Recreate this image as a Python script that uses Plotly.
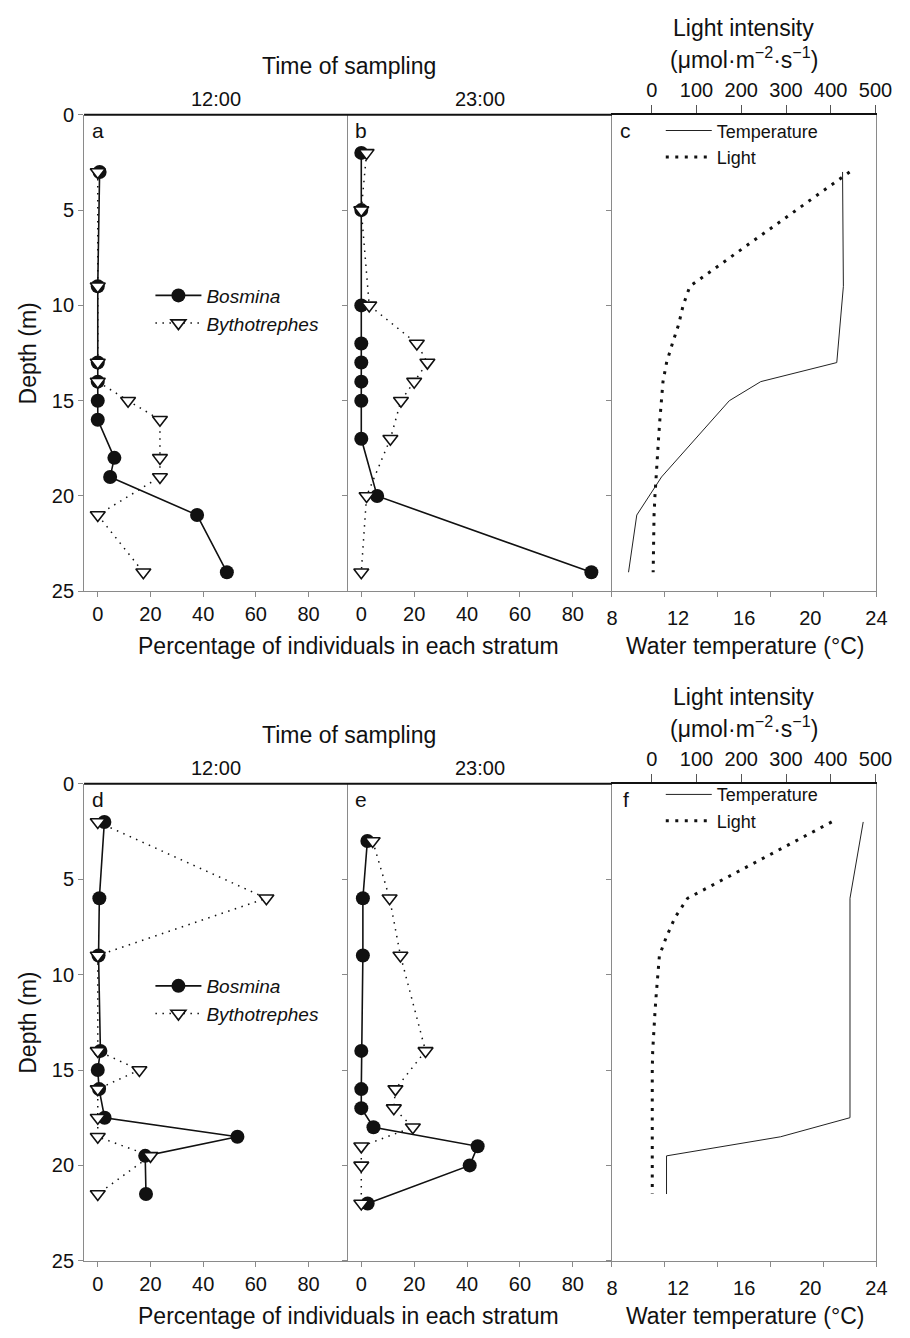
import plotly.graph_objects as go

W, H = 910, 1338
FONT = "Liberation Sans, Arial, Helvetica, sans-serif"

# ---------------- data ----------------
# Panel a (12:00, upper)
depth_a = [3, 9, 13, 14, 15, 16, 18, 19, 21, 24]
bosmina_a = [0.7, 0, 0, 0, 0, 0, 6.3, 4.7, 37.7, 49]
bytho_a = [0, 0, 0, 0, 11.5, 23.6, 23.6, 23.6, 0, 17.3]

# Panel b (23:00, upper)
depth_b = [2, 5, 10, 12, 13, 14, 15, 17, 20, 24]
bosmina_b = [0, 0, 0, 0, 0, 0, 0, 0, 6, 87]
bytho_b = [2, 0, 3, 21, 25, 20, 15, 11, 2, 0]

# Panel c (upper profiles)
temp_depth_c = [3, 9, 13, 14, 15, 19, 21, 24]
temp_c = [21.95, 22.0, 21.6, 17.0, 15.1, 11.0, 9.5, 9.0]
light_depth_c = [3, 9, 10, 11, 12, 13, 14, 15, 16, 17, 18, 19, 20, 21, 22, 24]
light_c = [442, 85, 70, 60, 46, 33, 25, 21, 18, 15, 12, 9, 7, 5, 4, 3]

# Panel d (12:00, lower)
depth_d = [2, 6, 9, 14, 15, 16, 17.5, 18.5, 19.5, 21.5]
bosmina_d = [2.5, 0.6, 0.3, 1, 0, 0.5, 2.6, 53, 18, 18.3]
bytho_d = [0, 64, 0, 0, 15.8, 0, 0, 0, 20, 0]

# Panel e (23:00, lower)
depth_e = [3, 6, 9, 14, 16, 17, 18, 19, 20, 22]
bosmina_e = [2.3, 0.6, 0.6, 0, 0, 0, 4.6, 44, 41, 2.4]
bytho_e = [4.3, 10.7, 14.8, 24.3, 12.9, 12.3, 19.5, 0, 0, 0]

# Panel f (lower profiles)
temp_depth_f = [2, 6, 17.5, 18.5, 19.5, 21.5]
temp_f = [23.2, 22.4, 22.4, 18.2, 11.3, 11.3]
light_depth_f = [2, 6, 7, 8, 9, 10, 11, 12, 13, 14, 15, 18, 21.5]
light_f = [402, 80, 52, 33, 17, 13, 10, 7, 4, 2, 1, 1, 1]

pct_ticks = [0, 20, 40, 60, 80]
depth_ticks = [0, 5, 10, 15, 20, 25]
temp_ticks = [8, 12, 16, 20, 24]
temp_marks = [8, 11.2, 14.4, 17.6, 20.8, 24]
light_ticks = [0, 100, 200, 300, 400, 500]

# ---------------- layout geometry (pixels) ----------------
cols = [(80, 350), (350, 621), (621, 892)]
rows = [(105.5, 590), (785.7, 1270.7)]


def xd(c):
    return [c[0] / W, c[1] / W]


def yd(r):
    return [1 - r[1] / H, 1 - r[0] / H]


def py(p):
    return 1 - p / H


def px(p):
    return p / W


AX_GRAY = "#8a8a8a"
tickfont = dict(family=FONT, size=20, color="#111")

fig = go.Figure()

bos_style = dict(mode="lines+markers", line=dict(color="#111", width=1.6),
                 marker=dict(symbol="circle", size=14, color="#111"))
byt_style = dict(mode="lines+markers", line=dict(color="#111", width=1.5, dash="1.5px,5.5px"),
                 marker=dict(symbol="triangle-down", size=13, color="white",
                             line=dict(color="#111", width=1.6)))
temp_style = dict(mode="lines", line=dict(color="#222", width=1))
light_style = dict(mode="lines", line=dict(color="#111", width=3, dash="3px,6.5px"))

# panel a
fig.add_trace(go.Scatter(x=bosmina_a, y=depth_a, name="<i>Bosmina</i>", xaxis="x", yaxis="y",
                         legend="legend", **bos_style))
fig.add_trace(go.Scatter(x=bytho_a, y=depth_a, name="<i>Bythotrephes</i>", xaxis="x", yaxis="y",
                         legend="legend", **byt_style))
# panel b
fig.add_trace(go.Scatter(x=bosmina_b, y=depth_b, xaxis="x2", yaxis="y2", showlegend=False, **bos_style))
fig.add_trace(go.Scatter(x=bytho_b, y=depth_b, xaxis="x2", yaxis="y2", showlegend=False, **byt_style))
# panel c
fig.add_trace(go.Scatter(x=temp_c, y=temp_depth_c, name="Temperature", xaxis="x3", yaxis="y3",
                         legend="legend2", **temp_style))
fig.add_trace(go.Scatter(x=light_c, y=light_depth_c, name="Light", xaxis="x7", yaxis="y3",
                         legend="legend2", **light_style))
fig.add_trace(go.Scatter(x=[], y=[], xaxis="x8", yaxis="y3", showlegend=False, hoverinfo="skip"))
# panel d
fig.add_trace(go.Scatter(x=bosmina_d, y=depth_d, name="<i>Bosmina</i>", xaxis="x4", yaxis="y4",
                         legend="legend3", **bos_style))
fig.add_trace(go.Scatter(x=bytho_d, y=depth_d, name="<i>Bythotrephes</i>", xaxis="x4", yaxis="y4",
                         legend="legend3", **byt_style))
# panel e
fig.add_trace(go.Scatter(x=bosmina_e, y=depth_e, xaxis="x5", yaxis="y5", showlegend=False, **bos_style))
fig.add_trace(go.Scatter(x=bytho_e, y=depth_e, xaxis="x5", yaxis="y5", showlegend=False, **byt_style))
# panel f
fig.add_trace(go.Scatter(x=temp_f, y=temp_depth_f, name="Temperature", xaxis="x6", yaxis="y6",
                         legend="legend4", **temp_style))
fig.add_trace(go.Scatter(x=light_f, y=light_depth_f, name="Light", xaxis="x9", yaxis="y6",
                         legend="legend4", **light_style))
fig.add_trace(go.Scatter(x=[], y=[], xaxis="x10", yaxis="y6", showlegend=False, hoverinfo="skip"))

layout = dict(width=W, height=H, margin=dict(l=0, r=0, t=0, b=0),
              paper_bgcolor="white", plot_bgcolor="white",
              font=dict(family=FONT, color="#111"), hovermode=False)

pct_axis = dict(range=[-5.2, 94.8], tickvals=pct_ticks, ticks="outside", ticklen=5,
                tickcolor=AX_GRAY, showline=True, linecolor=AX_GRAY, linewidth=1,
                showgrid=False, zeroline=False, tickfont=tickfont, fixedrange=True)
temp_axis = dict(range=[8, 24], tickvals=temp_ticks, ticks="", showline=True, linecolor=AX_GRAY,
                 linewidth=1, showgrid=False, zeroline=False, tickfont=tickfont, ticklabelstandoff=9)
temp_mark_axis = dict(range=[8, 24], tickvals=temp_marks, ticks="outside", ticklen=5,
                      tickcolor=AX_GRAY, showticklabels=False, showline=False,
                      showgrid=False, zeroline=False)
light_axis = dict(range=[-89, 502], tickvals=light_ticks, ticks="outside", ticklen=8,
                  tickcolor="#555", side="top", showline=True, linecolor="#111", linewidth=2,
                  showgrid=False, zeroline=False, tickfont=tickfont)


def yaxis(col, show_labels, mirror=False):
    return dict(range=[25, 0], tickvals=depth_ticks, ticks="outside", ticklen=5, tickcolor=AX_GRAY,
                showline=True, linecolor=AX_GRAY, linewidth=1, mirror=mirror,
                showticklabels=show_labels, showgrid=False, zeroline=False, tickfont=tickfont)


for r, (xs, ys) in enumerate([(("xaxis", "xaxis2", "xaxis3"), ("yaxis", "yaxis2", "yaxis3")),
                              (("xaxis4", "xaxis5", "xaxis6"), ("yaxis4", "yaxis5", "yaxis6"))]):
    for c in range(3):
        xname = xs[c]
        yname = ys[c]
        anchor_y = "y" if yname == "yaxis" else "y" + yname[5:]
        anchor_x = "x" if xname == "xaxis" else "x" + xname[5:]
        if c < 2:
            layout[xname] = dict(pct_axis, domain=xd(cols[c]), anchor=anchor_y)
        else:
            layout[xname] = dict(temp_axis, domain=xd(cols[c]), anchor=anchor_y)
        layout[yname] = dict(yaxis(c, c == 0, mirror=(c == 2)), domain=yd(rows[r]), anchor=anchor_x)

layout["xaxis7"] = dict(light_axis, domain=xd(cols[2]), anchor="y3", overlaying="x3")
layout["xaxis8"] = dict(temp_mark_axis, domain=xd(cols[2]), anchor="y3", overlaying="x3")
layout["xaxis9"] = dict(light_axis, domain=xd(cols[2]), anchor="y6", overlaying="x6")
layout["xaxis10"] = dict(temp_mark_axis, domain=xd(cols[2]), anchor="y6", overlaying="x6")

leg_common = dict(bgcolor="rgba(0,0,0,0)", borderwidth=0, xanchor="left", yanchor="top",
                  itemwidth=46, tracegroupgap=0, itemclick=False, itemdoubleclick=False)
layout["legend"] = dict(leg_common, x=px(148), y=py(270), font=dict(family=FONT, size=19, color="#111"))
layout["legend3"] = dict(leg_common, x=px(148), y=py(972), font=dict(family=FONT, size=19, color="#111"))
layout["legend2"] = dict(leg_common, x=px(671), y=py(103), font=dict(family=FONT, size=18, color="#111"))
layout["legend4"] = dict(leg_common, x=px(671), y=py(778), font=dict(family=FONT, size=18, color="#111"))

shapes = []
for r in rows:
    shapes.append(dict(type="line", xref="paper", yref="paper", x0=px(80), x1=px(621),
                       y0=py(r[0]), y1=py(r[0]), line=dict(color="#111", width=2)))
layout["shapes"] = shapes

ann = []


def text(x, y, s, size, angle=0):
    ann.append(dict(x=px(x), y=py(y), xref="paper", yref="paper", text=s, showarrow=False,
                    xanchor="center", yanchor="middle", textangle=angle,
                    font=dict(family=FONT, size=size, color="#111")))


for r in rows:
    top, bot = r
    text(351, top - 50, "Time of sampling", 23)
    text(215, top - 16, "12:00", 20)
    text(486, top - 16, "23:00", 20)
    text(756, top - 88, "Light intensity", 23)
    text(756, top - 58, "(μmol·m<sup>−2</sup>·s<sup>−1</sup>)", 23)
    text(351, bot + 56, "Percentage of individuals in each stratum", 23)
    text(757, bot + 56, "Water temperature (°C)", 23)
    text(23, (top + bot) / 2, "Depth (m)", 23, angle=-90)

for r, letters in zip(rows, ["abc", "def"]):
    for c, L in enumerate(letters):
        text(cols[c][0] + 14, r[0] + 16, L, 21)

layout["annotations"] = ann
fig.update_layout(**layout)
fig.write_html("out.html", config={"displayModeBar": False, "staticPlot": True},
               post_script="document.body.style.margin='0';document.body.style.overflow='hidden';")
